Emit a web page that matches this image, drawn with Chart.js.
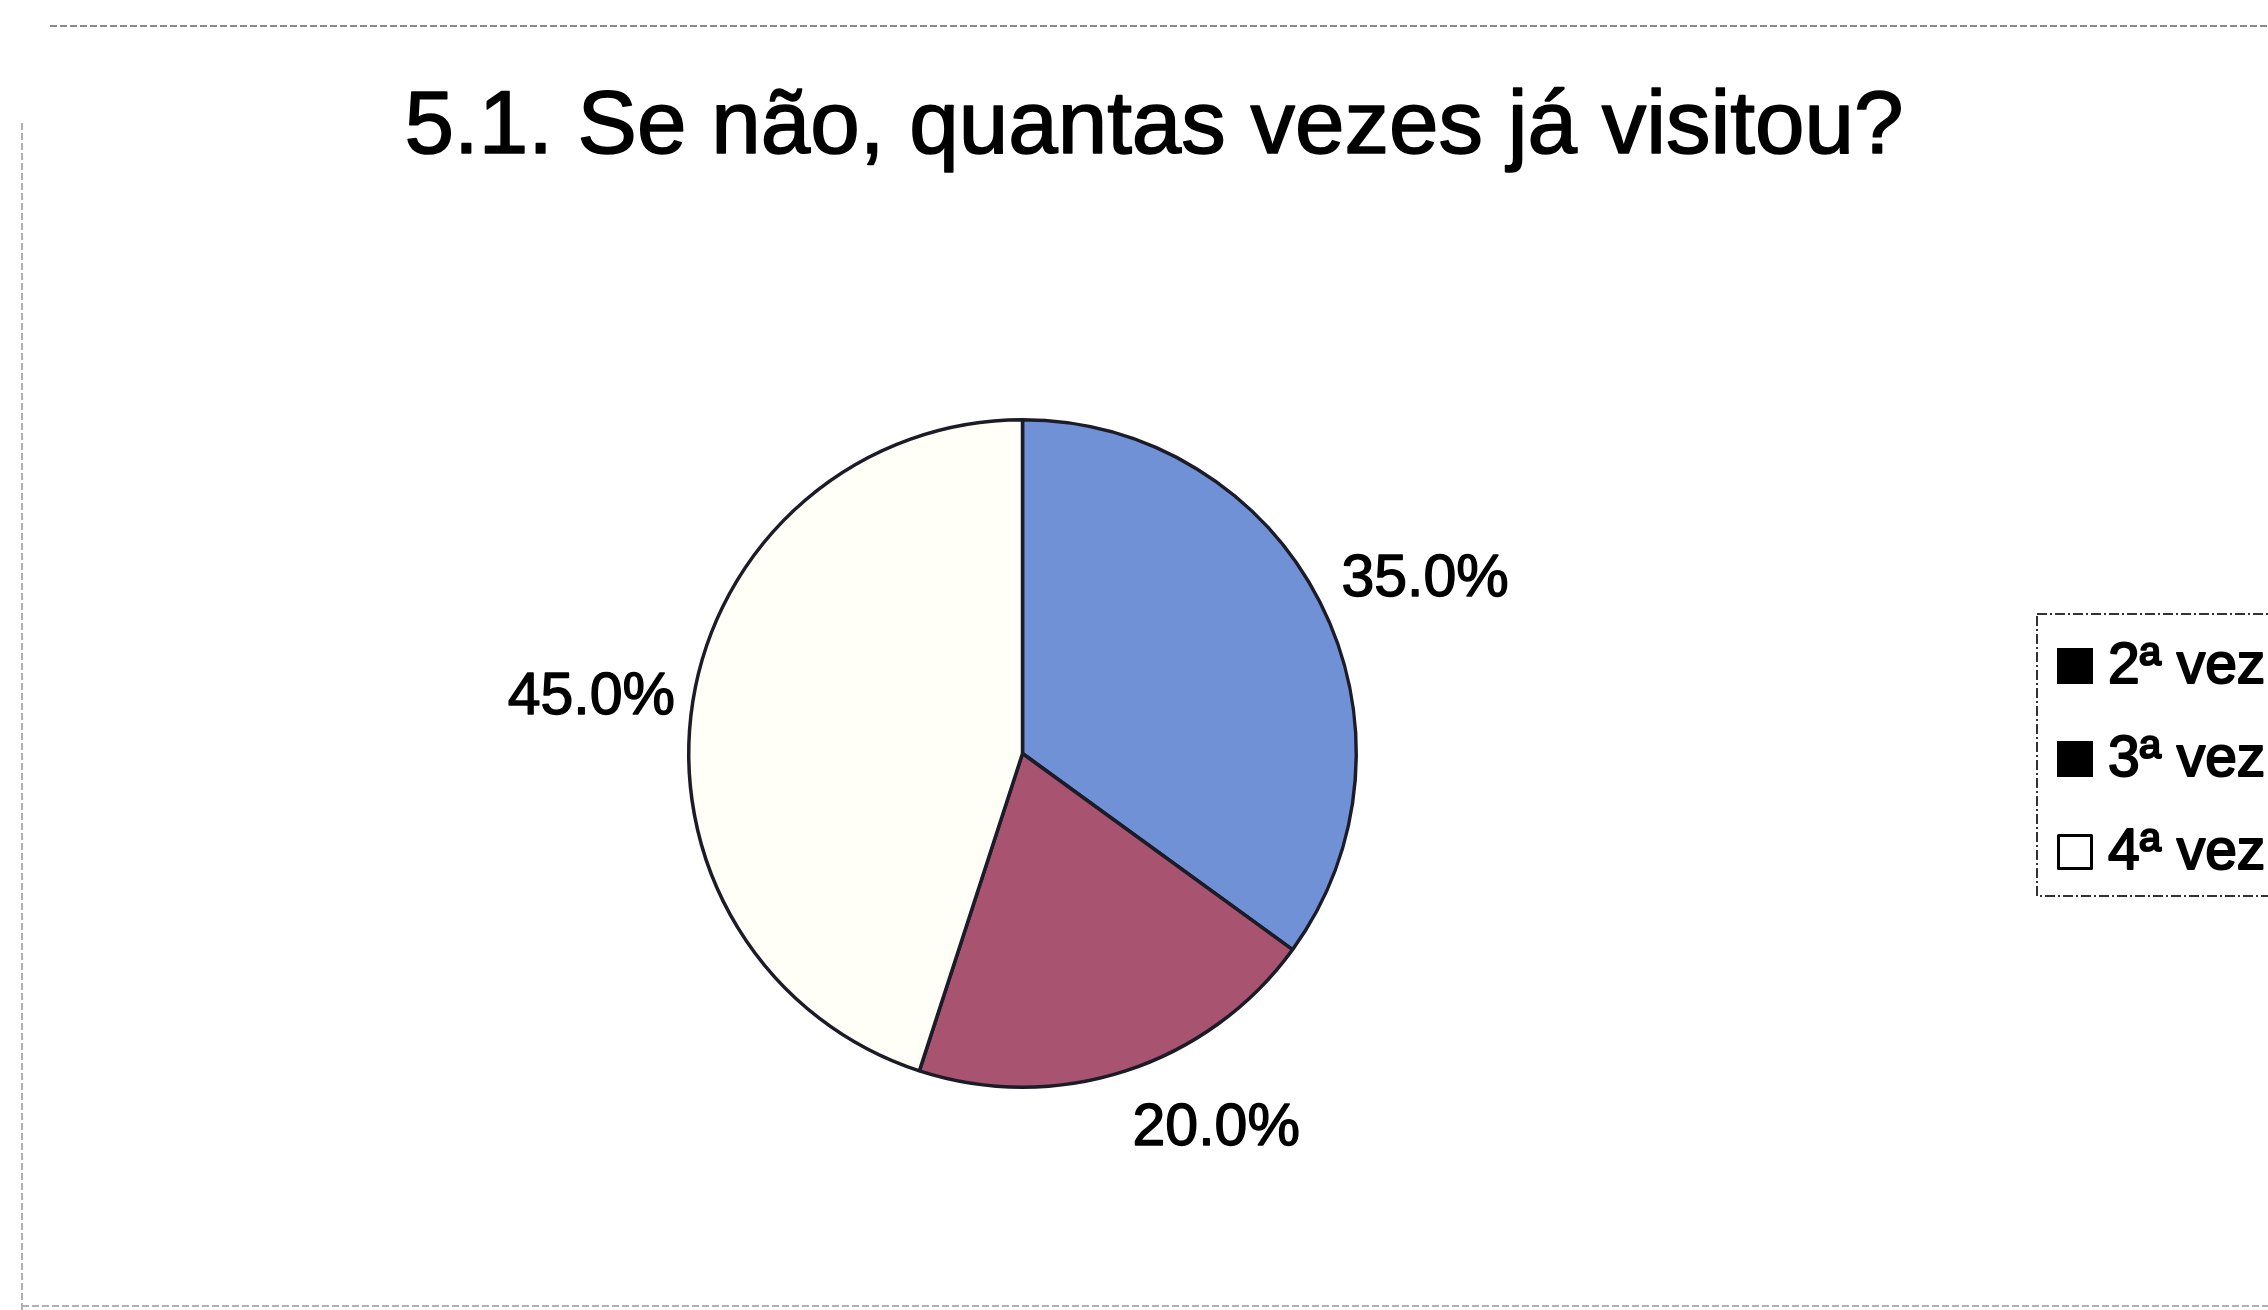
<!DOCTYPE html>
<html lang="pt">
<head>
<meta charset="utf-8">
<title>5.1. Se não, quantas vezes já visitou?</title>
<script src="https://cdn.jsdelivr.net/npm/chart.js@4/dist/chart.umd.min.js"></script>
<style>
    html, body { margin: 0; padding: 0; background: #fff; }
    #wrap { position: relative; width: 2268px; height: 1310px; overflow: hidden; }
</style>
</head>
<body>
<div id="wrap"><canvas id="pie"></canvas></div>
<script>
const titleText = "5.1. Se não, quantas vezes já visitou?"
const categories = ["2ª vez", "3ª vez", "4ª vez"]
const shares = [35.0, 20.0, 45.0]

const sliceColors = ["#7091d6", "#a8536f", "#fffff7"]
const legendColors = ["#000000", "#000000", "#ffffff"]

const font = "'Liberation Sans', Arial, sans-serif"

// fill + thin stroke so the glyphs come out a little heavier
function heavyText(ctx, text, x, y, weight) {
    ctx.lineWidth = weight
    ctx.lineJoin = 'round'
    ctx.strokeStyle = ctx.fillStyle
    ctx.fillText(text, x, y)
    ctx.strokeText(text, x, y)
}

// page frame, title and the boxed legend on the right
const framePlugin = {
    id: 'frame',
    beforeDraw(chart) {
        const ctx = chart.ctx
        ctx.save()
        ctx.lineWidth = 2
        ctx.setLineDash([7, 3])
        ctx.strokeStyle = "#8a8a8a"
        ctx.beginPath()
        ctx.moveTo(50, 26); ctx.lineTo(2268, 26)
        ctx.stroke()
        ctx.strokeStyle = "#b0b0b0"
        ctx.beginPath()
        ctx.moveTo(22, 123); ctx.lineTo(22, 1310)
        ctx.moveTo(22, 1306); ctx.lineTo(2268, 1306)
        ctx.stroke()
        ctx.restore()
    },
    afterDraw(chart) {
        const ctx = chart.ctx
        ctx.save()
        ctx.fillStyle = "#000"
        ctx.font = `89px ${font}`
        ctx.textAlign = 'center'
        ctx.textBaseline = 'alphabetic'
        heavyText(ctx, titleText, 1154, 153, 1.6)

        // legend box
        ctx.lineWidth = 2
        ctx.setLineDash([10, 3, 2, 3])
        ctx.strokeStyle = "#333"
        ctx.strokeRect(2037, 614, 300, 282)
        ctx.setLineDash([])

        ctx.font = `57px ${font}`
        ctx.textAlign = 'left'
        chart.data.labels.forEach((label, i) => {
            var top = 648 + i * 93
            ctx.fillStyle = legendColors[i]
            ctx.fillRect(2057, top, 36, 36)
            ctx.lineWidth = 3
            ctx.strokeStyle = "#000"
            ctx.strokeRect(2058.5, top + 1.5, 33, 33)
            ctx.fillStyle = "#000"
            heavyText(ctx, label, 2108, top + 35, 2)
        })
        ctx.restore()
    }
}

// percentage labels just outside each slice
const sliceLabels = {
    id: 'sliceLabels',
    afterDatasetsDraw(chart, args, opts) {
        const ctx = chart.ctx
        const meta = chart.getDatasetMeta(0)
        const size = opts.size
        ctx.save()
        ctx.font = `${size}px ${font}`
        ctx.fillStyle = "#000"
        ctx.textAlign = 'center'
        ctx.textBaseline = 'alphabetic'
        meta.data.forEach((arc, i) => {
            const p = arc.getProps(['x', 'y', 'startAngle', 'endAngle', 'outerRadius'], true)
            const mid = (p.startAngle + p.endAngle) / 2
            const text = chart.data.datasets[0].data[i].toFixed(1) + "%"
            const w = ctx.measureText(text).width
            const h = size * 0.72
            const r = p.outerRadius + opts.gap
            const nudge = opts.nudge[i] || [0, 0]
            const cx = p.x + r * Math.cos(mid) + w / 2 * Math.cos(mid) + nudge[0]
            const cy = p.y + r * Math.sin(mid) + h / 2 * Math.sin(mid) + nudge[1]
            heavyText(ctx, text, cx, cy + h / 2, 1.4)
        })
        ctx.restore()
    }
}

new Chart(document.querySelector("canvas#pie"), {
    type: 'pie',
    data: {
        labels: categories,
        datasets: [{
            data: shares,
            backgroundColor: sliceColors,
            borderColor: "#1c1c28",
            borderWidth: 3.5
        }]
    },
    options: {
        responsive: true,
        maintainAspectRatio: false,
        animation: false,
        layout: {
            padding: { left: 687, right: 910, top: 418, bottom: 221 }
        },
        plugins: {
            legend: { display: false },
            title: { display: false },
            tooltip: { enabled: false },
            sliceLabels: {
                size: 59,
                gap: 12,
                nudge: [[20, -12], [61, 21], [-7, -3]]
            }
        }
    },
    plugins: [framePlugin, sliceLabels]
});
</script>
</body>
</html>
